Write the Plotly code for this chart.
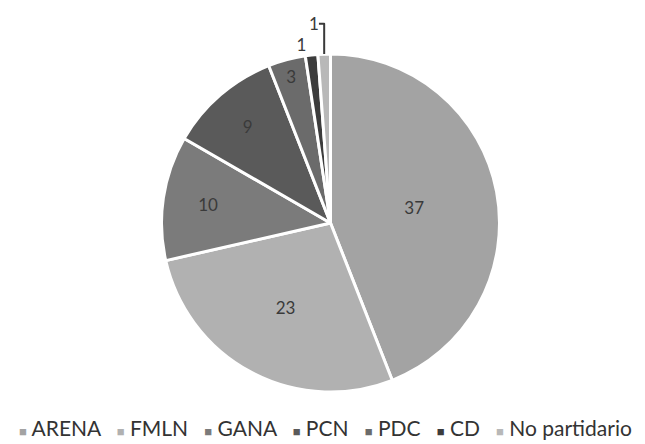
import plotly.graph_objects as go

partidos = ["ARENA", "FMLN", "GANA", "PCN", "PDC", "CD", "No partidario"]
valores = [37, 23, 10, 9, 3, 1, 1]
colores = ["#a3a3a3", "#b1b1b1", "#7b7b7b", "#5a5a5a", "#6b6b6b", "#3c3c3c", "#b8b8b8"]
posiciones = ["inside", "inside", "inside", "inside", "inside", "outside", "outside"]

fig = go.Figure(go.Pie(
    labels=partidos, values=valores, sort=False, direction="clockwise", rotation=0,
    marker=dict(colors=colores, line=dict(color="white", width=3)),
    textinfo="value", textposition=posiciones,
    insidetextorientation="horizontal",
    textfont=dict(size=17, color="#3a3a3a", family="Lato"),
    outsidetextfont=dict(size=17, color="#3a3a3a", family="Lato"),
    showlegend=False,
))

# leyenda en una sola linea, como en el original
leyenda = "&nbsp;&nbsp;&nbsp;".join(
    "<span style='color:%s;font-size:13px'>■</span>&nbsp;%s" % (c, p) for p, c in zip(partidos, colores)
)
fig.add_annotation(text=leyenda, x=0.49, y=-0.105, xref="paper", yref="paper",
                   xanchor="center", yanchor="middle", showarrow=False,
                   font=dict(family="Lato", size=21, color="#333333"))

fig.update_layout(
    width=645, height=444,
    margin=dict(l=10, r=0, t=4, b=60),
    paper_bgcolor="white",
    font=dict(family="Lato", size=16, color="#333333"),
)
fig.write_html("out.html")
